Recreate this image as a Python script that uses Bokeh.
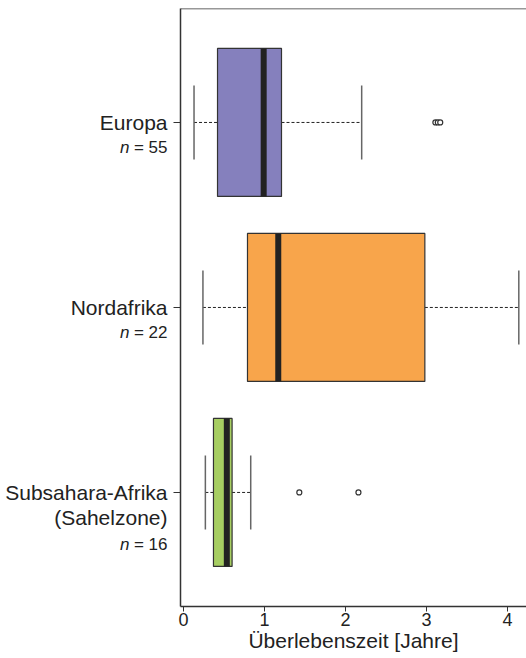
from bokeh.plotting import figure
from bokeh.layouts import row
from bokeh.models import FixedTicker, Span, Range1d
from bokeh.core.properties import value
from bokeh.embed import file_html
from bokeh.resources import INLINE

# ---- data ----
regions = ["Europa", "Nordafrika", "Subsahara-Afrika"]
region_sub = ["", "", "(Sahelzone)"]
n_values = [55, 22, 16]
ypos = [3, 2, 1]
q1 = [0.42, 0.79, 0.37]
median = [0.99, 1.17, 0.535]
q3 = [1.21, 2.98, 0.60]
whisker_low = [0.13, 0.24, 0.27]
whisker_high = [2.20, 4.14, 0.83]
out_x = [3.11, 3.14, 3.17, 1.43, 2.16]
out_region = [0, 0, 0, 2, 2]
colors = ["#8580BD", "#F8A54B", "#A7CE62"]
x_ticks = [0, 1, 2, 3, 4]

FONT = "Liberation Sans"
TXT = "#222222"
BOX_H = 0.8
CAP_H = 0.4
H = 658
TOP = 8
BOTTOM = 52
LABEL_W = 168

y_range = Range1d(0.3835, 3.616)

# ---- main plot ----
p = figure(width=526 - LABEL_W, height=H, output_backend="svg",
           toolbar_location=None,
           x_range=Range1d(-0.037, 4.235), y_range=y_range,
           min_border_left=12, min_border_top=TOP, min_border_right=0,
           min_border_bottom=BOTTOM)
p.grid.visible = False
p.outline_line_color = None

# whiskers (dashed)
p.segment(x0=whisker_low, y0=ypos, x1=q1, y1=ypos, line_color="#222222",
          line_width=1, line_dash="3 2")
p.segment(x0=q3, y0=ypos, x1=whisker_high, y1=ypos, line_color="#222222",
          line_width=1, line_dash="3 2")
# caps
cap_lo = [y - CAP_H / 2 for y in ypos]
cap_hi = [y + CAP_H / 2 for y in ypos]
p.segment(x0=whisker_low, y0=cap_lo, x1=whisker_low, y1=cap_hi,
          line_color="#666666", line_width=1.5)
p.segment(x0=whisker_high, y0=cap_lo, x1=whisker_high, y1=cap_hi,
          line_color="#666666", line_width=1.5)
# boxes
p.hbar(y=ypos, left=q1, right=q3, height=BOX_H, fill_color=colors,
       line_color="#333333", line_width=1.2)
# medians
p.rect(x=median, y=ypos, width=6, width_units="screen", height=BOX_H,
       fill_color="#222222", line_color=None)
# outliers
p.scatter(x=out_x, y=[ypos[i] for i in out_region], size=5,
          fill_color="white", line_color="#333333", line_width=1.2)

# top frame line
p.add_layout(Span(location=y_range.end, dimension="width",
                  line_color="#333333", line_width=1.5))

# x axis
xa = p.xaxis[0]
xa.ticker = FixedTicker(ticks=x_ticks)
xa.minor_tick_line_color = None
xa.major_tick_in = 0
xa.major_tick_out = 5
xa.axis_line_color = "#333333"
xa.axis_line_width = 1.5
xa.major_tick_line_color = "#333333"
xa.major_label_text_font = FONT
xa.major_label_text_font_size = "18px"
xa.major_label_text_color = TXT
xa.major_label_standoff = 1
xa.axis_label = "Überlebenszeit [Jahre]"
xa.axis_label_text_font = FONT
xa.axis_label_text_font_size = "21px"
xa.axis_label_text_font_style = "normal"
xa.axis_label_text_color = TXT
xa.axis_label_standoff = 0

# y axis: ticks only, labels drawn in the label panel
ya = p.yaxis[0]
ya.ticker = FixedTicker(ticks=ypos)
ya.major_label_overrides = {y: "" for y in ypos}
ya.minor_tick_line_color = None
ya.major_tick_in = 0
ya.major_tick_out = 7
ya.axis_line_color = "#333333"
ya.axis_line_width = 1.5
ya.major_tick_line_color = "#333333"
ya.major_label_standoff = 5

# ---- label panel (shares the y scale) ----
lab = figure(width=LABEL_W, height=H, output_backend="svg",
             toolbar_location=None, x_range=Range1d(0, 1), y_range=y_range,
             x_axis_location=None, y_axis_location=None,
             min_border_left=0, min_border_right=0, min_border_top=TOP,
             min_border_bottom=BOTTOM)
lab.grid.visible = False
lab.outline_line_color = None

right = [1] * len(regions)
lab.text(x=right, y=ypos, text=regions, text_align="right",
         text_baseline="middle", text_font=value(FONT),
         text_font_size=value("21px"), text_color=TXT, x_offset=-1)

sub_idx = [i for i, s in enumerate(region_sub) if s]
lab.text(x=[1 for i in sub_idx], y=[ypos[i] for i in sub_idx],
         text=[region_sub[i] for i in sub_idx], text_align="right",
         text_baseline="middle", text_font=value(FONT),
         text_font_size=value("21px"), text_color=TXT, x_offset=-1,
         y_offset=25)

n_off = [52 if s else 25 for s in region_sub]
lab.text(x=right, y=ypos, text=["= " + str(n) for n in n_values],
         text_align="right", text_baseline="middle", text_font=value(FONT),
         text_font_size=value("17px"), text_color=TXT, x_offset=-1,
         y_offset=n_off)
lab.text(x=right, y=ypos, text=["n"] * len(n_values),
         text_align="right", text_baseline="middle", text_font=value(FONT),
         text_font_size=value("17px"), text_font_style="italic",
         text_color=TXT, x_offset=-39, y_offset=n_off)

layout = row(lab, p, spacing=0)
open("out.html", "w").write(file_html(layout, INLINE))
